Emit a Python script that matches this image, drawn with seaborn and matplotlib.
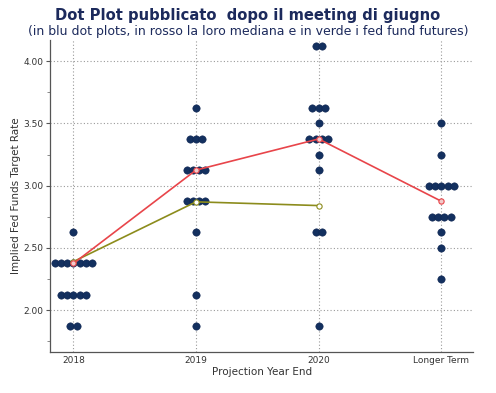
import matplotlib
matplotlib.use("Agg")
import matplotlib.pyplot as plt
import seaborn as sns
import numpy as np
import pandas as pd
from matplotlib.ticker import MultipleLocator

sns.set_style("white")
plt.rcParams['font.family'] = ['DejaVu Sans']

categories = ["2018", "2019", "2020", "Longer Term"]
# dot plot: (rate, number of participants) per year
dots_2018 = [(2.625, 1), (2.375, 7), (2.125, 5), (1.875, 2)]
dots_2019 = [(3.625, 1), (3.375, 3), (3.125, 4), (2.875, 4), (2.625, 1), (2.125, 1), (1.875, 1)]
dots_2020 = [(4.125, 2), (3.625, 3), (3.5, 1), (3.375, 4), (3.25, 1), (3.125, 1), (2.625, 2), (1.875, 1)]
dots_longer = [(3.5, 1), (3.25, 1), (3.0, 5), (2.75, 4), (2.625, 1), (2.5, 1), (2.25, 1)]
median_values = [2.375, 3.125, 3.375, 2.875]
futures_values = [2.39, 2.87, 2.84]
y_ticks = [2.00, 2.50, 3.00, 3.50, 4.00]

DOT_STEP = 0.051  # horizontal spacing of stacked dots, in category units

rows = []
for i, (cat, dots) in enumerate(zip(categories, [dots_2018, dots_2019, dots_2020, dots_longer])):
    for rate, n in dots:
        for k in range(n):
            rows.append((cat, i + (k - (n - 1) / 2) * DOT_STEP, rate))
df = pd.DataFrame(rows, columns=["year", "xpos", "rate"])

med_df = pd.DataFrame({"xpos": np.arange(len(median_values)), "rate": median_values})
fut_df = pd.DataFrame({"xpos": np.arange(len(futures_values)), "rate": futures_values})

navy = "#13305f"
red = "#e8454a"
olive = "#8c8c1c"

fig = plt.figure(figsize=(4.96, 3.93), dpi=100)
ax = fig.add_axes([0.101, 0.104, 0.853, 0.794])

sns.scatterplot(data=df, x="xpos", y="rate", color=navy, s=28, edgecolor="#0d2450",
                linewidth=0.4, ax=ax, zorder=2)
sns.lineplot(data=med_df, x="xpos", y="rate", color=red, linewidth=1.2, marker="o",
             markersize=3.8, markerfacecolor="#f2caca", markeredgecolor=red,
             markeredgewidth=0.8, ax=ax, zorder=4)
sns.lineplot(data=fut_df, x="xpos", y="rate", color=olive, linewidth=1.2, marker="o",
             markersize=3.8, markerfacecolor="white", markeredgecolor=olive,
             markeredgewidth=0.8, ax=ax, zorder=3)

ax.set_xticks(range(len(categories)))
ax.set_xticklabels(categories)
ax.set_xlim(-0.19, 3.26)
ax.set_ylim(1.663, 4.169)
ax.set_yticks(y_ticks)
ax.set_yticklabels([f"{v:.2f}" for v in y_ticks])
ax.yaxis.set_minor_locator(MultipleLocator(0.25))
ax.grid(True, which="major", linestyle=(0, (1, 2)), color="#9a9a9a", linewidth=0.8)
ax.set_axisbelow(True)
for s in ["top", "right"]:
    ax.spines[s].set_visible(False)
for s in ["left", "bottom"]:
    ax.spines[s].set_color("#555555")
    ax.spines[s].set_linewidth(0.9)
ax.tick_params(axis="y", which="major", direction="out", length=3, width=0.8,
               color="#555555", labelsize=6.5, labelcolor="#333333", left=True, pad=1.5)
ax.tick_params(axis="y", which="minor", direction="out", length=2, width=0.6,
               color="#777777", left=True)
ax.tick_params(axis="x", which="major", length=0, labelsize=6.5, labelcolor="#333333", pad=3)
ax.set_xlabel("Projection Year End", fontsize=7.5, color="#333333", labelpad=1)
ax.set_ylabel("Implied Fed Funds Target Rate", fontsize=7.5, color="#333333", labelpad=2)

fig.text(0.5, 0.960, "Dot Plot pubblicato  dopo il meeting di giugno", ha="center", va="center",
         fontsize=10.6, fontweight="bold", color="#1c2a5c")
fig.text(0.5, 0.920, "(in blu dot plots, in rosso la loro mediana e in verde i fed fund futures)",
         ha="center", va="center", fontsize=9.0, color="#1c2a5c")

fig.savefig("out.png", dpi=100)
